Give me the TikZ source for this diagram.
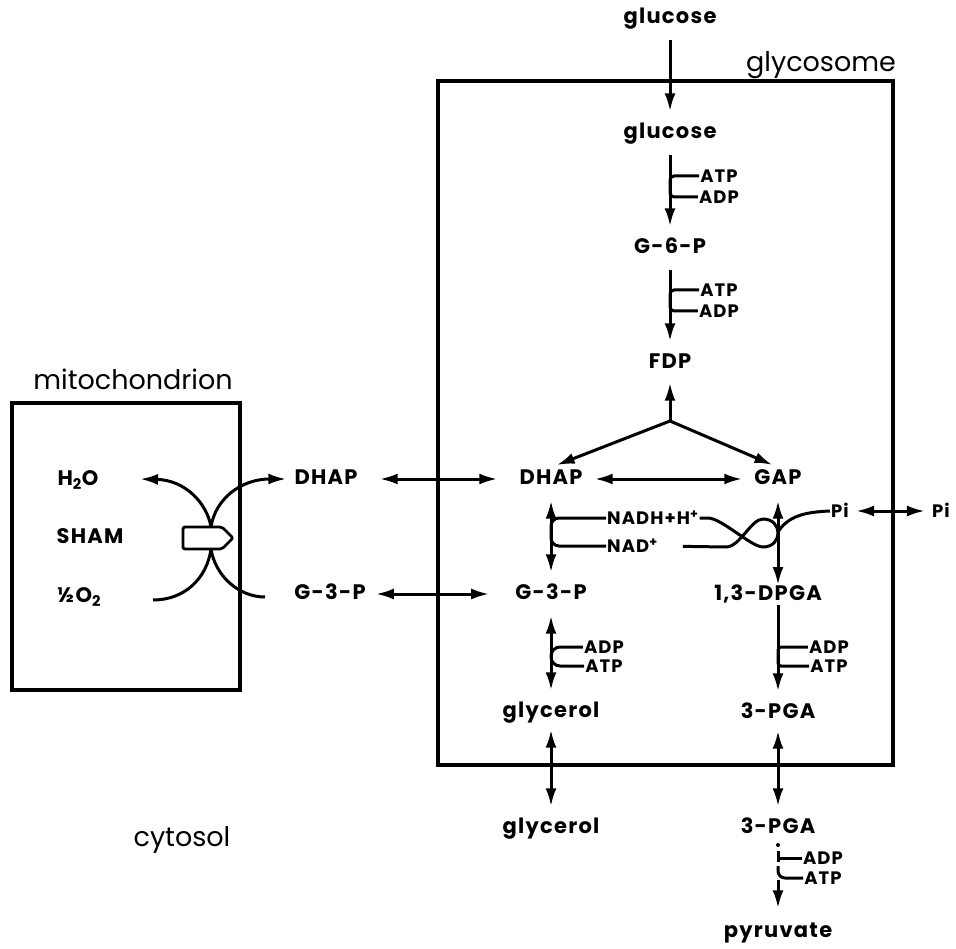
\documentclass[tikz,border=0pt]{standalone}
\usepackage{fontspec}
\setmainfont{Poppins}
\newfontfamily\metfont[LetterSpace=6]{Poppins}
\usetikzlibrary{arrows.meta,calc}

\tikzset{
  met/.style={font=\metfont\bfseries\fontsize{21}{24}\selectfont,inner sep=2pt,text height=15pt,text depth=4pt},
  cof/.style={font=\metfont\bfseries\fontsize{18}{20}\selectfont,inner sep=1pt,text height=13pt,text depth=0pt},
  region/.style={font=\fontsize{27}{30}\selectfont},
  membrane/.style={line width=3.2pt},
  side/.style={line width=3pt},
  rxn/.style={side,-{Latex[length=18pt,width=11pt]},shorten <=10pt,shorten >=10pt},
  rev/.style={side,{Latex[length=18pt,width=11pt]}-{Latex[length=18pt,width=11pt]},shorten <=10pt,shorten >=10pt},
}

\begin{document}
\begin{tikzpicture}[x=1pt,y=-1pt]
  \useasboundingbox (0,0) rectangle (956,949);
  % compartments
  \draw[membrane] (438,81) rectangle (893,765);
  \draw[membrane] (12,403) rectangle (240,690);
  \node[region,anchor=base] (glycosome) at (821,72) {glycosome};
  \node[region,anchor=base] (mito) at (133,390) {mitochondrion};
  \node[region] (cytosol) at (182,840) {cytosol};

  % metabolites
  \node[met] (glcout) at (670,18) {glucose};
  \node[met] (glcin) at (670,133) {glucose};
  \node[met] (g6p) at (670,248) {G-6-P};
  \node[met] (fdp) at (670,363) {FDP};
  \node[met] (dhapin) at (551,479) {DHAP};
  \node[met] (gap) at (778,479) {GAP};
  \node[met] (dhapout) at (326,479) {DHAP};
  \node[met] (g3pout) at (330,594) {G-3-P};
  \node[met] (g3pin) at (551,594) {G-3-P};
  \node[met] (dpga) at (768,595) {1,3-DPGA};
  \node[met] (glyin) at (551,712) {glycerol};
  \node[met] (pgain) at (778,713) {3-PGA};
  \node[met] (glyout) at (551,828) {glycerol};
  \node[met] (pgaout) at (778,828) {3-PGA};
  \node[met] (pyr) at (778,932) {pyruvate};
  \node[met] (h2o) at (78,480) {H\textsubscript{2}O};
  \node[met] (sham) at (90,538) {SHAM};
  \node[met] (o2) at (79,597) {½O\textsubscript{2}};

  % cofactors
  \node[cof] (atp1) at (719,176) {ATP};
  \node[cof] (adp1) at (719,197) {ADP};
  \node[cof] (atp2) at (719,290) {ATP};
  \node[cof] (adp2) at (719,311) {ADP};
  \node[cof,anchor=west] (nadh) at (606,518) {NADH+H\textsuperscript{+}};
  \node[cof,anchor=west] (nad) at (606,546) {NAD\textsuperscript{+}};
  \node[cof] (adp3) at (604,647) {ADP};
  \node[cof] (atp3) at (604,666) {ATP};
  \node[cof] (adp4) at (829,647) {ADP};
  \node[cof] (atp4) at (829,666) {ATP};
  \node[cof] (adp5) at (823,858) {ADP};
  \node[cof] (atp5) at (823,878) {ATP};
  \node[cof] (pi1) at (840,511) {Pi};
  \node[cof] (pi2) at (941,511) {Pi};

  % glycosome pathway
  \draw[rxn] (glcout) -- (glcin);
  \draw[rxn] (glcin) -- (g6p);
  \draw[side,rounded corners=4pt] (atp1.west) -- (atp1.west -| glcin) -- (adp1.west -| glcin) -- (adp1.west);
  \draw[rxn] (g6p) -- (fdp);
  \draw[side,rounded corners=4pt] (atp2.west) -- (atp2.west -| g6p) -- (adp2.west -| g6p) -- (adp2.west);
  \coordinate (split) at (670,421);
  \draw[rxn,shorten <=0pt,shorten >=8pt] (split) -- (fdp);
  \draw[rxn,shorten <=0pt,shorten >=6pt] (split) -- (dhapin.north);
  \draw[rxn,shorten <=0pt,shorten >=6pt] (split) -- (gap.north);
  \draw[rev] (dhapin) -- (gap);
  \draw[rev] (dhapin) -- (g3pin);
  \draw[side,rounded corners=8pt] (nadh.west) -- (nadh.west -| dhapin) -- (nad.west -| dhapin) -- (nad.west);
  \draw[rev] (gap) -- (gap |- dpga);
  \draw[side] (nadh.east) -- ++(8,0) .. controls +(14,0) and +(-12,0) .. (763,547)
    .. controls +(20,0) and +(20,0) .. (763,519);
  \draw[side,shorten <=24pt] (nad.east) -- (726,547) .. controls +(14,0) and +(-12,0) .. (763,519);
  \draw[side] (778,532) .. controls (788,516) and (805,512) .. (pi1.west);
  \draw[rev,shorten <=6pt,shorten >=6pt] (pi1) -- (pi2);
  \draw[rev] (g3pin) -- (glyin);
  \draw[side,rounded corners=9pt] (adp3.west) -- (adp3.west -| g3pin) -- (atp3.west -| g3pin) -- (atp3.west);
  \draw[rxn] (pgain |- dpga) -- (pgain);
  \draw[side,rounded corners=3pt] (adp4.west) -- (adp4.west -| pgain) -- (atp4.west -| pgain) -- (atp4.west);
  \draw[rev,shorten <=6pt] (glyin) -- (glyout);
  \draw[rev,shorten <=6pt] (pgain) -- (pgaout);

  % pyruvate kinase
  \fill ($(pgaout)+(0,17)$) circle (2pt);
  \draw[side] ($(pgaout)+(0,23)$) -- ($(pgaout)+(0,34)$);
  \draw[side] (adp5.west -| pgaout) -- (adp5.west);
  \draw[side,rounded corners=7pt] ($(pgaout)+(0,38)$) |- (atp5.west);
  \draw[rxn,shorten <=0pt,shorten >=12pt] ($(pgaout)+(0,52)$) -- (pyr);

  % shuttle through the mitochondrion
  \coordinate (shamtop) at (211,527);
  \coordinate (shambot) at (211,549);
  \coordinate (o2in) at (153,600);
  \coordinate (h2oout) at (140,479);
  \coordinate (g3pend) at (265,597);
  \draw[side] (o2in) .. controls (185,600) and (207,578) .. (shambot);
  \draw[rxn,shorten <=0pt,shorten >=0pt] (shamtop) .. controls (207,503) and (185,480) .. (h2oout);
  \draw[side] (g3pend) .. controls (238,597) and (215,575) .. (shambot);
  \draw[rxn,shorten <=0pt,shorten >=6pt] (shamtop) .. controls (215,500) and (240,479) .. (dhapout.west);
  \draw[line width=2.8pt,fill=white,rounded corners=2pt] (183,527) -- (222,527) -- (233,538) -- (222,549) -- (183,549) -- cycle;
  \draw[rev,shorten <=20pt,shorten >=20pt] (dhapout) -- (dhapin);
  \draw[rev,shorten <=8pt,shorten >=24pt] (g3pout) -- (g3pin);
\end{tikzpicture}
\end{document}
